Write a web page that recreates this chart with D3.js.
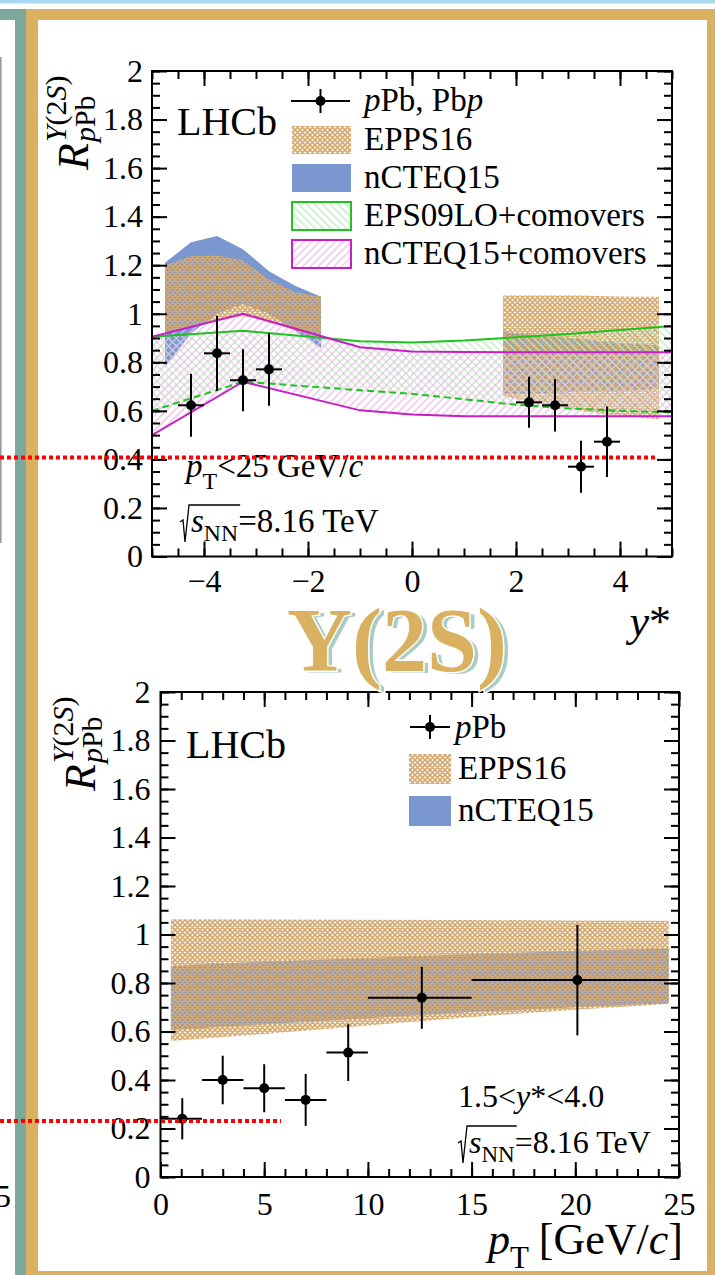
<!DOCTYPE html>
<html>
<head>
<meta charset="utf-8">
<script src="https://cdn.jsdelivr.net/npm/d3@7/dist/d3.min.js"></script>
<style>
html,body{margin:0;padding:0;background:#fff;}
svg{display:block;}
text{font-family:"Liberation Serif","Times New Roman",Times,serif;white-space:pre;}
</style>
</head>
<body>
<svg id="chart" width="715" height="1275"></svg>
<script>
// ---------- R_pPb of Upsilon(2S) versus rapidity y* ----------
const ysCenters = [-4.25, -3.75, -3.25, -2.75, 2.25, 2.75, 3.25, 3.75];
const ysR       = [0.623, 0.837, 0.726, 0.771, 0.635, 0.623, 0.370, 0.473];
const ysErr     = [0.130, 0.155, 0.128, 0.150, 0.105, 0.108, 0.107, 0.145];
const ysHalfBin = [0.25, 0.25, 0.25, 0.25, 0.25, 0.25, 0.25, 0.25];

// nPDF predictions, backward and forward acceptance
const bandBwdY   = [-4.75, -4.25, -3.75, -3.25, -2.75, -2.25, -1.75];
const eppsBwdHi  = [1.200, 1.237, 1.240, 1.220, 1.140, 1.090, 1.070];
const eppsBwdLo  = [0.920, 0.950, 0.970, 0.990, 0.970, 0.930, 0.900];
const ncteqBwdHi = [1.210, 1.295, 1.320, 1.266, 1.175, 1.115, 1.070];
const ncteqBwdLo = [0.780, 0.920, 1.000, 1.040, 1.000, 0.930, 0.860];
const bandFwdY   = [1.75, 2.25, 2.75, 3.25, 3.75, 4.25, 4.75];
const eppsFwdHi  = [1.075, 1.075, 1.075, 1.075, 1.072, 1.070, 1.070];
const eppsFwdLo  = [0.660, 0.640, 0.620, 0.600, 0.585, 0.575, 0.565];
const ncteqFwdHi = [0.925, 0.915, 0.905, 0.895, 0.885, 0.875, 0.870];
const ncteqFwdLo = [0.670, 0.670, 0.675, 0.680, 0.680, 0.685, 0.690];

// comover calculations
const comY       = [-5, -3.25, -1, 0, 1, 2, 3, 4, 5];
const epsComHi   = [0.905, 0.930, 0.887, 0.882, 0.890, 0.903, 0.917, 0.933, 0.950];
const epsComLo   = [0.600, 0.720, 0.685, 0.670, 0.648, 0.625, 0.610, 0.600, 0.594];
const ncteqComHi = [0.905, 1.000, 0.862, 0.845, 0.842, 0.841, 0.841, 0.841, 0.841];
const ncteqComLo = [0.500, 0.720, 0.602, 0.585, 0.578, 0.578, 0.578, 0.578, 0.578];

// ---------- R_pPb of Upsilon(2S) versus pT ----------
const ptMean  = [1.05, 3.0, 5.0, 7.0, 9.05, 12.6, 20.1];
const ptLo    = [0, 2, 4, 6, 8, 10, 15];
const ptHi    = [2, 4, 6, 8, 10, 15, 25];
const ptR     = [0.240, 0.400, 0.366, 0.318, 0.513, 0.739, 0.812];
const ptErr   = [0.085, 0.100, 0.099, 0.107, 0.117, 0.128, 0.228];
const bandPt   = [0.5, 5, 10, 15, 20, 24.5];
const eppsPtHi = [1.063, 1.062, 1.061, 1.060, 1.058, 1.057];
const eppsPtLo = [0.561, 0.590, 0.625, 0.660, 0.690, 0.713];
const ncteqPtHi = [0.870, 0.888, 0.903, 0.920, 0.932, 0.943];
const ncteqPtLo = [0.606, 0.630, 0.655, 0.680, 0.700, 0.716];

// ---------- ticks ----------
const rTicks      = [0, 0.2, 0.4, 0.6, 0.8, 1, 1.2, 1.4, 1.6, 1.8, 2];
const rMinor      = d3.range(0, 2.0001, 0.05);
const ysTicks     = [-4, -2, 0, 2, 4];
const ysMinor     = d3.range(-5, 5.0001, 0.5);
const ptTicks     = [0, 5, 10, 15, 20, 25];
const ptMinor     = d3.range(0, 25.0001, 1);

const legendTop = ['EPPS16', 'nCTEQ15', 'EPS09LO+comovers', 'nCTEQ15+comovers'];
const legendBottom = ['EPPS16', 'nCTEQ15'];

// ---------- colours ----------
const C = {
  gold: '#d9b160', teal: '#7ea89c', sky: '#aad8f0',
  blue: '#7b97cf', epps: '#d6a96f',
  green: '#1ec31e', greenHatch: '#bdebbd',
  magenta: '#c81ec8', magHatch: '#ecbcec',
  red: '#ff0000', titleShadow: '#a9cdc6'
};

const svg = d3.select('#chart');
const W = 715, H = 1275;

// ---------- page frame ----------
svg.append('rect').attr('x', 0).attr('y', 0).attr('width', W).attr('height', H).attr('fill', '#fff');
svg.append('rect').attr('x', 0).attr('y', 0).attr('width', W).attr('height', 3.5).attr('fill', C.sky);
svg.append('rect').attr('x', 0).attr('y', 9).attr('width', 26).attr('height', 11).attr('fill', C.teal);
svg.append('rect').attr('x', 15).attr('y', 20).attr('width', 11).attr('height', H - 20).attr('fill', C.teal);
svg.append('rect').attr('x', 26).attr('y', 9).attr('width', W - 26).attr('height', H - 9).attr('fill', C.gold);
svg.append('rect').attr('x', 38).attr('y', 20).attr('width', 707 - 38).attr('height', 1271 - 20).attr('fill', '#fff');
svg.append('line').attr('x1', 0.8).attr('x2', 0.8).attr('y1', 57).attr('y2', 543).attr('stroke', '#9a9a9a').attr('stroke-width', 1.6);
svg.append('text').attr('x', 11).attr('y', 1207).attr('text-anchor', 'end').attr('font-size', 32).attr('fill', '#000').text('5');

// ---------- fill patterns ----------
const defs = svg.append('defs');
const pe = defs.append('pattern').attr('id', 'eppsPat').attr('patternUnits', 'userSpaceOnUse')
  .attr('width', 5).attr('height', 5);
pe.append('path').attr('d', 'M-1,1 L1,-1 M0,5 L5,0 M4,6 L6,4 M-1,4 L1,6 M0,0 L5,5 M4,-1 L6,1')
  .attr('stroke', C.epps).attr('stroke-width', 1.7).attr('fill', 'none');
function hatch(id, color, angle) {
  const p = defs.append('pattern').attr('id', id).attr('patternUnits', 'userSpaceOnUse')
    .attr('width', 5.5).attr('height', 10).attr('patternTransform', `rotate(${angle})`);
  p.append('line').attr('x1', 1).attr('x2', 1).attr('y1', 0).attr('y2', 10)
    .attr('stroke', color).attr('stroke-width', 1.3);
}
hatch('greenHatch', C.greenHatch, -45);
hatch('magHatch', C.magHatch, 45);

// ---------- helpers ----------
function rich(g, x, y, parts, anchor) {
  const grp = g.append('g');
  let cx = 0;
  const placed = [];
  parts.forEach(p => {
    const t = grp.append('text').attr('x', cx).attr('y', p.dy || 0)
      .attr('font-size', p.size).attr('fill', '#000')
      .attr('font-style', p.it ? 'italic' : null)
      .attr('font-weight', p.bold ? 'bold' : null)
      .text(p.t);
    const w = t.node().getComputedTextLength();
    placed.push({ x: cx, w });
    cx += w + (p.gap || 0);
  });
  const shift = anchor === 'end' ? -cx : anchor === 'middle' ? -cx / 2 : 0;
  grp.attr('transform', `translate(${x + shift},${y})`);
  return { grp, placed, width: cx, x0: x + shift };
}

function drawAxes(g, x, y, xMajor, xMinor, yMajor, yMinor, xPad, yPad) {
  const [x0, x1] = x.range();
  const [yb, yt] = y.range();
  const major = 15, minor = 8;
  const style = sel => {
    sel.select('.domain').remove();
    sel.selectAll('line').attr('stroke', '#000').attr('stroke-width', 2);
    sel.selectAll('text').attr('font-size', 32).attr('fill', '#000');
    sel.attr('font-family', null).attr('font-size', null);
  };
  const fmtR = d => d3.format('~g')(d);
  g.append('g').attr('transform', `translate(0,${yb})`)
    .call(d3.axisBottom(x).tickValues(xMajor).tickSize(-major).tickPadding(xPad)).call(style);
  g.append('g').attr('transform', `translate(0,${yb})`)
    .call(d3.axisBottom(x).tickValues(xMinor).tickSize(-minor).tickFormat('')).call(style);
  g.append('g').attr('transform', `translate(0,${yt})`)
    .call(d3.axisTop(x).tickValues(xMajor).tickSize(-major).tickFormat('')).call(style);
  g.append('g').attr('transform', `translate(0,${yt})`)
    .call(d3.axisTop(x).tickValues(xMinor).tickSize(-minor).tickFormat('')).call(style);
  g.append('g').attr('transform', `translate(${x0},0)`)
    .call(d3.axisLeft(y).tickValues(yMajor).tickSize(-major).tickPadding(yPad).tickFormat(fmtR)).call(style);
  g.append('g').attr('transform', `translate(${x0},0)`)
    .call(d3.axisLeft(y).tickValues(yMinor).tickSize(-minor).tickFormat('')).call(style);
  g.append('g').attr('transform', `translate(${x1},0)`)
    .call(d3.axisRight(y).tickValues(yMajor).tickSize(-major).tickFormat('')).call(style);
  g.append('g').attr('transform', `translate(${x1},0)`)
    .call(d3.axisRight(y).tickValues(yMinor).tickSize(-minor).tickFormat('')).call(style);
  g.append('rect').attr('x', x0).attr('y', yt).attr('width', x1 - x0).attr('height', yb - yt)
    .attr('fill', 'none').attr('stroke', '#000').attr('stroke-width', 2);
}

function band(g, xs, lo, hi, x, y, fill) {
  const area = d3.area().x((d, i) => x(xs[i])).y0((d, i) => y(lo[i])).y1((d, i) => y(hi[i]));
  return g.append('path').attr('d', area(xs)).attr('fill', fill).attr('stroke', 'none');
}
function curve(g, xs, vals, x, y, color, dash) {
  const line = d3.line().x((d, i) => x(xs[i])).y((d, i) => y(vals[i]));
  g.append('path').attr('d', line(xs)).attr('fill', 'none').attr('stroke', color)
    .attr('stroke-width', 2).attr('stroke-dasharray', dash || null);
}
function points(g, xs, xl, xh, vals, errs, x, y) {
  xs.forEach((v, i) => {
    g.append('line').attr('x1', x(xl[i])).attr('x2', x(xh[i])).attr('y1', y(vals[i])).attr('y2', y(vals[i]))
      .attr('stroke', '#000').attr('stroke-width', 2);
    g.append('line').attr('x1', x(v)).attr('x2', x(v)).attr('y1', y(vals[i] - errs[i])).attr('y2', y(vals[i] + errs[i]))
      .attr('stroke', '#000').attr('stroke-width', 2);
    g.append('circle').attr('cx', x(v)).attr('cy', y(vals[i])).attr('r', 5).attr('fill', '#000');
  });
}
function legendMarker(g, x1, x2, yc) {
  g.append('line').attr('x1', x1).attr('x2', x2).attr('y1', yc).attr('y2', yc).attr('stroke', '#000').attr('stroke-width', 2);
  const xm = (x1 + x2) / 2;
  g.append('line').attr('x1', xm).attr('x2', xm).attr('y1', yc - 12).attr('y2', yc + 12).attr('stroke', '#000').attr('stroke-width', 2);
  g.append('circle').attr('cx', xm).attr('cy', yc).attr('r', 5).attr('fill', '#000');
}
function yTitle(g, bx, by) {
  const t = g.append('g').attr('transform', `translate(${bx},${by}) rotate(-90)`);
  const r = rich(t, 0, 0, [{ t: 'R', size: 44, it: true }]);
  const w = r.width + 1;
  rich(t, w, -22, [{ t: 'Υ', size: 30, it: true }, { t: '(2', size: 30 }, { t: 'S', size: 30, it: true }, { t: ')', size: 30 }]);
  rich(t, w, 7, [{ t: 'p', size: 30, it: true }, { t: 'Pb', size: 30 }]);
}
function sqrtS(g, x, y, size) {
  const grp = g.append('g');
  const r = rich(grp, x + 11, y, [
    { t: 's', size: size, it: true },
    { t: 'NN', size: size * 0.72, dy: 9 },
    { t: '=8.16 TeV', size: size }
  ]);
  const endNN = x + 11 + r.placed[1].x + r.placed[1].w;
  grp.append('path')
    .attr('d', `M${x},${y - 10} L${x + 3},${y - 12} L${x + 5},${y + 10} L${x + 9},${y - 27} L${endNN + 2},${y - 27}`)
    .attr('fill', 'none').attr('stroke', '#000').attr('stroke-width', 1.3);
}

// =================== top panel : vs y* ===================
const xY = d3.scaleLinear().domain([-5, 5]).range([152, 672]);
const yTop = d3.scaleLinear().domain([0, 2]).range([556.5, 71]);
const gTop = svg.append('g');
gTop.append('clipPath').attr('id', 'clipTop').append('rect')
  .attr('x', 152).attr('y', 71).attr('width', 520).attr('height', 485.5);
const bandsTop = gTop.append('g').attr('clip-path', 'url(#clipTop)');

band(bandsTop, bandBwdY, ncteqBwdLo, ncteqBwdHi, xY, yTop, C.blue);
band(bandsTop, bandFwdY, ncteqFwdLo, ncteqFwdHi, xY, yTop, C.blue);
band(bandsTop, bandBwdY, eppsBwdLo, eppsBwdHi, xY, yTop, 'url(#eppsPat)');
band(bandsTop, bandFwdY, eppsFwdLo, eppsFwdHi, xY, yTop, 'url(#eppsPat)');
band(bandsTop, comY, epsComLo, epsComHi, xY, yTop, 'url(#greenHatch)');
band(bandsTop, comY, ncteqComLo, ncteqComHi, xY, yTop, 'url(#magHatch)');
curve(bandsTop, comY, epsComHi, xY, yTop, C.green);
curve(bandsTop, comY, epsComLo, xY, yTop, C.green, '7,4');
curve(bandsTop, comY, ncteqComHi, xY, yTop, C.magenta);
curve(bandsTop, comY, ncteqComLo, xY, yTop, C.magenta);

points(gTop, ysCenters, ysCenters.map((c, i) => c - ysHalfBin[i]), ysCenters.map((c, i) => c + ysHalfBin[i]),
  ysR, ysErr, xY, yTop);

drawAxes(gTop, xY, yTop, ysTicks, ysMinor, rTicks, rMinor, 13, 9);

yTitle(gTop, 88, 170);
rich(gTop, 671, 636, [{ t: 'y', size: 44, it: true }, { t: '*', size: 44 }], 'end');
rich(gTop, 177, 135, [{ t: 'LHCb', size: 40 }]);

// legend
legendMarker(gTop, 291, 350, 101);
rich(gTop, 364, 111, [{ t: 'p', size: 33, it: true }, { t: 'Pb, Pb', size: 33 }, { t: 'p', size: 33, it: true }]);
const legTopRows = [140, 178, 216, 254];
const legTopFill = ['url(#eppsPat)', C.blue, 'url(#greenHatch)', 'url(#magHatch)'];
const legTopStroke = [null, null, C.green, C.magenta];
legendTop.forEach((lab, i) => {
  gTop.append('rect').attr('x', 292).attr('y', legTopRows[i] - 14).attr('width', 59).attr('height', 28)
    .attr('fill', legTopFill[i]).attr('stroke', legTopStroke[i] || 'none').attr('stroke-width', 2);
  rich(gTop, 364, legTopRows[i] + 10, [{ t: lab, size: 33 }]);
});

// kinematic text
rich(gTop, 186, 477, [{ t: 'p', size: 33, it: true }, { t: 'T', size: 24, dy: 12 }, { t: '<25 GeV/', size: 33, gap: 0 }, { t: 'c', size: 33, it: true }]);
sqrtS(gTop, 180, 532, 33);

// =================== bottom panel : vs pT ===================
const xP = d3.scaleLinear().domain([0, 25]).range([160.5, 679]);
const yBot = d3.scaleLinear().domain([0, 2]).range([1177, 692]);
const gBot = svg.append('g');
gBot.append('clipPath').attr('id', 'clipBot').append('rect')
  .attr('x', 160.5).attr('y', 692).attr('width', 518.5).attr('height', 485);
const bandsBot = gBot.append('g').attr('clip-path', 'url(#clipBot)');
band(bandsBot, bandPt, ncteqPtLo, ncteqPtHi, xP, yBot, C.blue);
band(bandsBot, bandPt, eppsPtLo, eppsPtHi, xP, yBot, 'url(#eppsPat)');

points(gBot, ptMean, ptLo, ptHi, ptR, ptErr, xP, yBot);
drawAxes(gBot, xP, yBot, ptTicks, ptMinor, rTicks, rMinor, 15, 10);

yTitle(gBot, 95, 791);
rich(gBot, 683, 1254, [{ t: 'p', size: 44, it: true }, { t: 'T', size: 31, dy: 14, gap: 10 }, { t: '[GeV/', size: 44 }, { t: 'c', size: 44, it: true }, { t: ']', size: 44 }], 'end');
rich(gBot, 186, 758, [{ t: 'LHCb', size: 40 }]);

legendMarker(gBot, 410, 450, 727);
rich(gBot, 455, 738, [{ t: 'p', size: 33, it: true }, { t: 'Pb', size: 33 }]);
const legBotRows = [769, 811];
const legBotFill = ['url(#eppsPat)', C.blue];
legendBottom.forEach((lab, i) => {
  gBot.append('rect').attr('x', 409).attr('y', legBotRows[i] - 15).attr('width', 42).attr('height', 30)
    .attr('fill', legBotFill[i]);
  rich(gBot, 458, legBotRows[i] + 10, [{ t: lab, size: 33 }]);
});
rich(gBot, 458, 1107, [{ t: '1.5<', size: 32 }, { t: 'y', size: 32, it: true }, { t: '*<4.0', size: 32 }]);
sqrtS(gBot, 458, 1153, 32);

// =================== banner between panels ===================
svg.append('text').attr('x', 402).attr('y', 673).attr('text-anchor', 'middle')
  .attr('font-size', 90).attr('font-weight', 'bold').attr('fill', C.titleShadow)
  .attr('stroke', '#fff').attr('stroke-width', 3).attr('paint-order', 'stroke').text('Υ(2S)');
svg.append('text').attr('x', 397).attr('y', 671).attr('text-anchor', 'middle')
  .attr('font-size', 90).attr('font-weight', 'bold').attr('fill', C.gold)
  .attr('stroke', '#fff').attr('stroke-width', 3).attr('paint-order', 'stroke').text('Υ(2S)');

// =================== reference lines ===================
svg.append('line').attr('x1', 0).attr('x2', 655).attr('y1', 457.5).attr('y2', 457.5)
  .attr('stroke', C.red).attr('stroke-width', 4).attr('stroke-dasharray', '4,3');
svg.append('line').attr('x1', 0).attr('x2', 281).attr('y1', 1121).attr('y2', 1121)
  .attr('stroke', C.red).attr('stroke-width', 4).attr('stroke-dasharray', '4,3');
</script>
</body>
</html>
